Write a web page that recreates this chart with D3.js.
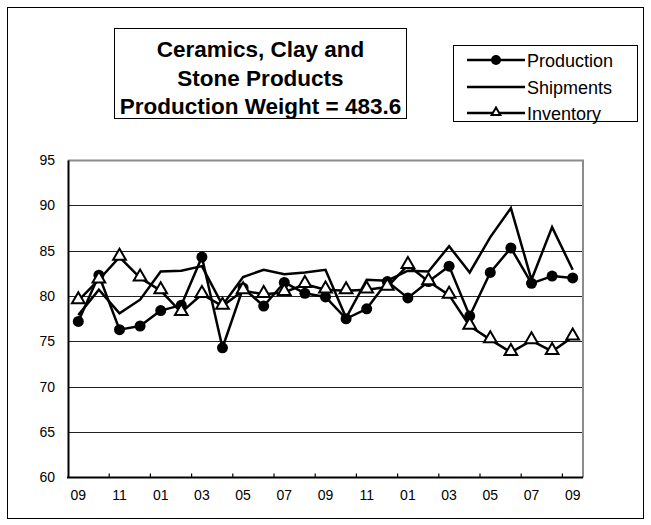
<!DOCTYPE html>
<html>
<head>
<meta charset="utf-8">
<script src="https://cdn.jsdelivr.net/npm/d3@7"></script>
<style>
  html, body { margin: 0; padding: 0; background: #fff; }
  svg { display: block; }
  text { font-family: "Liberation Sans", Arial, sans-serif; fill: #000; }
</style>
</head>
<body>
<svg id="chart" width="651" height="525"></svg>
<script>
// ---- data ----
const months = ["09","10","11","12","01","02","03","04","05","06","07","08","09",
                "10","11","12","01","02","03","04","05","06","07","08","09"];
const production = [77.2, 82.3, 76.3, 76.7, 78.4, 79.0, 84.3, 74.3, 80.9, 78.9, 81.5, 80.3, 79.9,
                     77.5, 78.6, 81.6, 79.8, 81.6, 83.3, 77.8, 82.6, 85.3, 81.4, 82.2, 82.0];
const shipments  = [77.9, 80.7, 78.1, 79.6, 82.7, 82.8, 83.3, 79.0, 82.1, 82.9, 82.4, 82.6, 82.9,
                     77.6, 81.8, 81.7, 82.8, 82.7, 85.5, 82.6, 86.5, 89.7, 81.8, 87.6, 82.9];
const inventory  = [79.5, 81.8, 84.3, 82.0, 80.6, 78.2, 80.2, 78.9, 80.6, 80.2, 80.4, 81.3, 80.7,
                     80.6, 80.7, 81.0, 83.4, 81.6, 80.1, 76.7, 75.2, 73.8, 75.1, 73.9, 75.5];
const yTicks = [60, 65, 70, 75, 80, 85, 90, 95];
const titleLines = ["Ceramics, Clay and", "Stone Products", "Production Weight = 483.6"];
const seriesNames = ["Production", "Shipments", "Inventory"];

// ---- layout ----
const svg = d3.select("#chart");
const plot = { left: 68, right: 583, top: 160, bottom: 477.5 };

// outer frame
svg.append("rect").attr("x", 7.5).attr("y", 7.5).attr("width", 636).attr("height", 511)
  .attr("fill", "none").attr("stroke", "#000").attr("stroke-width", 1);

const x = d3.scaleBand().domain(d3.range(months.length)).range([plot.left, plot.right]).padding(0);
const cx = i => x(i) + x.bandwidth() / 2;
const y = d3.scaleLinear().domain([60, 95]).range([plot.bottom, plot.top]);

// gridlines
svg.append("g").selectAll("line").data(yTicks.filter(v => v > 60 && v < 95)).join("line")
  .attr("x1", plot.left).attr("x2", plot.right)
  .attr("y1", d => Math.round(y(d)) + 0.5).attr("y2", d => Math.round(y(d)) + 0.5)
  .attr("stroke", "#222").attr("stroke-width", 1);

// plot border top/right (gray)
svg.append("path")
  .attr("d", `M${plot.left},${Math.round(plot.top)+0.5} H${plot.right} V${plot.bottom}`)
  .attr("fill", "none").attr("stroke", "#8c8c8c").attr("stroke-width", 2);

// y axis
const yAxis = svg.append("g").attr("transform", `translate(${plot.left},0)`)
  .call(d3.axisLeft(y).tickValues(yTicks).tickSize(0).tickPadding(13).tickFormat(d3.format("d")));
yAxis.select(".domain").attr("stroke", "#000").attr("stroke-width", 2);
yAxis.selectAll("text").style("font-size", "14px").style("font-family", "Liberation Sans, Arial, sans-serif");

// x axis
const tickIdx = d3.range(0, months.length, 2);
const xAxisG = svg.append("g");
xAxisG.append("line").attr("x1", plot.left - 1).attr("x2", plot.right)
  .attr("y1", plot.bottom).attr("y2", plot.bottom).attr("stroke", "#000").attr("stroke-width", 2);
xAxisG.selectAll("line.tk").data(tickIdx.filter(i => i > 0)).join("line").attr("class", "tk")
  .attr("x1", d => x(d)).attr("x2", d => x(d))
  .attr("y1", plot.bottom).attr("y2", plot.bottom - 4)
  .attr("stroke", "#000").attr("stroke-width", 1.2);
xAxisG.selectAll("text").data(tickIdx).join("text")
  .attr("x", d => cx(d)).attr("y", plot.bottom + 22)
  .attr("text-anchor", "middle").style("font-size", "14px")
  .text(d => months[d]);

// lines
const line = d3.line().x((d, i) => cx(i)).y(d => y(d));
svg.append("path").datum(production).attr("d", line)
  .attr("fill", "none").attr("stroke", "#000").attr("stroke-width", 2.5).attr("stroke-linejoin", "round");
svg.append("path").datum(shipments).attr("d", line)
  .attr("fill", "none").attr("stroke", "#000").attr("stroke-width", 2.5).attr("stroke-linejoin", "miter");
svg.append("g").selectAll("circle").data(production).join("circle")
  .attr("cx", (d, i) => cx(i)).attr("cy", d => y(d)).attr("r", 5.5).attr("fill", "#000");
svg.append("path").datum(inventory).attr("d", line)
  .attr("fill", "none").attr("stroke", "#000").attr("stroke-width", 2.5).attr("stroke-linejoin", "round");
const tri = d3.symbol().type(d3.symbolTriangle).size(70);
svg.append("g").selectAll("path").data(inventory).join("path")
  .attr("transform", (d, i) => `translate(${cx(i)},${y(d) - 1})`)
  .attr("d", tri).attr("fill", "#fff").attr("stroke", "#000").attr("stroke-width", 2);

// title box
svg.append("rect").attr("x", 114.5).attr("y", 28.5).attr("width", 292).attr("height", 90)
  .attr("fill", "#fff").attr("stroke", "#000").attr("stroke-width", 1);
svg.append("g").selectAll("text").data(titleLines).join("text")
  .attr("x", 260.5).attr("y", (d, i) => 57 + i * 28.7)
  .attr("text-anchor", "middle").style("font-size", "22.5px").style("font-weight", "bold")
  .text(d => d);

// legend
svg.append("rect").attr("x", 453.5).attr("y", 45.5).attr("width", 184).attr("height", 76)
  .attr("fill", "#fff").attr("stroke", "#000").attr("stroke-width", 1);
const legY = [60, 87, 113];
const triSmall = d3.symbol().type(d3.symbolTriangle).size(32);
const lg = svg.append("g");
seriesNames.forEach((name, k) => {
  lg.append("line").attr("x1", 467).attr("x2", 525).attr("y1", legY[k]).attr("y2", legY[k])
    .attr("stroke", "#000").attr("stroke-width", 2.5);
  if (k === 0) lg.append("circle").attr("cx", 496).attr("cy", legY[k]).attr("r", 5).attr("fill", "#000");
  if (k === 2) lg.append("path").attr("transform", `translate(496,${legY[k] - 0.5})`).attr("d", triSmall)
    .attr("fill", "#fff").attr("stroke", "#000").attr("stroke-width", 2);
  lg.append("text").attr("x", 527).attr("y", legY[k] + 6.5).style("font-size", "18px").text(name);
});
</script>
</body>
</html>
